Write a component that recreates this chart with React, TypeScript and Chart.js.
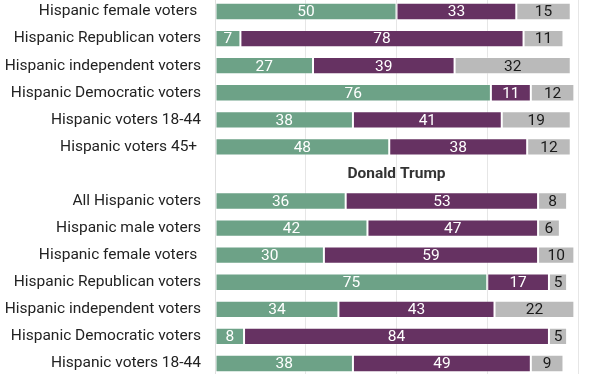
import { useEffect, useRef } from "react";
import { Chart, registerables } from "chart.js";

Chart.register(...registerables);

const categories = [
  "Hispanic female voters ",
  "Hispanic Republican voters",
  "Hispanic independent voters",
  "Hispanic Democratic voters",
  "Hispanic voters 18-44",
  "Hispanic voters 45+ ",
  "",
  "All Hispanic voters",
  "Hispanic male voters",
  "Hispanic female voters ",
  "Hispanic Republican voters",
  "Hispanic independent voters",
  "Hispanic Democratic voters",
  "Hispanic voters 18-44",
];

const favorable = [50, 7, 27, 76, 38, 48, null, 36, 42, 30, 75, 34, 8, 38];
const unfavorable = [33, 78, 39, 11, 41, 38, null, 53, 47, 59, 17, 43, 84, 49];
const noOpinion = [15, 11, 32, 12, 19, 12, null, 8, 6, 10, 5, 22, 5, 9];

const sectionTitle = "Donald Trump";
const sectionIndex = 6;

const labelColors = ["#ffffff", "#ffffff", "#1a1a1a"];

const valueLabelPlugin = {
  id: "valueLabels",
  afterDatasetsDraw(chart: any) {
    const ctx = chart.ctx;
    ctx.save();
    ctx.font = "15.5px Roboto";
    ctx.textAlign = "center";
    ctx.textBaseline = "middle";
    chart.data.datasets.forEach((ds: any, di: number) => {
      const meta = chart.getDatasetMeta(di);
      meta.data.forEach((el: any, i: number) => {
        const v = ds.data[i];
        if (v === null || v === undefined) return;
        const cx = (el.x + el.base) / 2;
        ctx.fillStyle = labelColors[di];
        ctx.fillText(String(v), cx, el.y + 1);
      });
    });
    const xs = chart.scales.x;
    const ys = chart.scales.y;
    ctx.font = "bold 15.5px Roboto";
    ctx.fillStyle = "#333333";
    ctx.fillText(sectionTitle, xs.getPixelForValue(50), ys.getPixelForValue(sectionIndex));
    ctx.restore();
  },
};

export default function App() {
  const ref = useRef<HTMLCanvasElement>(null);
  useEffect(() => {
    const chart = new Chart(ref.current as HTMLCanvasElement, {
      type: "bar",
      data: {
        labels: categories,
        datasets: [
          {
            label: "Favorable",
            data: favorable,
            backgroundColor: "#6da287",
            borderColor: "rgba(255,255,255,0.3)",
            borderWidth: 1,
            borderSkipped: false,
            barPercentage: 0.64,
            categoryPercentage: 1,
          },
          {
            label: "Unfavorable",
            data: unfavorable,
            backgroundColor: "#663262",
            borderColor: "rgba(255,255,255,0.15)",
            borderWidth: 1,
            borderSkipped: false,
            barPercentage: 0.64,
            categoryPercentage: 1,
          },
          {
            label: "No opinion",
            data: noOpinion,
            backgroundColor: "#bababa",
            borderColor: "rgba(255,255,255,0.35)",
            borderWidth: 1,
            borderSkipped: false,
            barPercentage: 0.64,
            categoryPercentage: 1,
          },
        ],
      },
      options: {
        indexAxis: "y",
        responsive: false,
        animation: false,
        layout: { padding: { left: 0, right: 34, top: 0, bottom: 0 } },
        plugins: { legend: { display: false }, tooltip: { enabled: false } },
        scales: {
          x: {
            stacked: true,
            min: 0,
            max: 100,
            ticks: { display: false, stepSize: 25 },
            grid: { color: "#e6e6e6", drawTicks: false },
            border: { display: false },
          },
          y: {
            stacked: true,
            afterFit: (s: any) => {
              s.width = 215;
              s.paddingTop = 0;
              s.paddingBottom = 0;
            },
            grid: { display: false, drawTicks: false },
            border: { display: true, color: "#dedede" },
            ticks: {
              padding: 14,
              color: "#222222",
              autoSkip: false,
              font: { family: "Roboto", size: 15.5 },
            },
          },
        },
      },
      plugins: [valueLabelPlugin],
    } as any);
    return () => chart.destroy();
  }, []);
  return (
    <div
      style={{
        position: "fixed",
        left: 0,
        top: 0,
        width: 612,
        height: 374,
        overflow: "hidden",
        background: "#ffffff",
      }}
    >
      <canvas
        ref={ref}
        width={612}
        height={379}
        style={{ position: "absolute", left: 0, top: -2, width: 612, height: 379 }}
      />
    </div>
  );
}
